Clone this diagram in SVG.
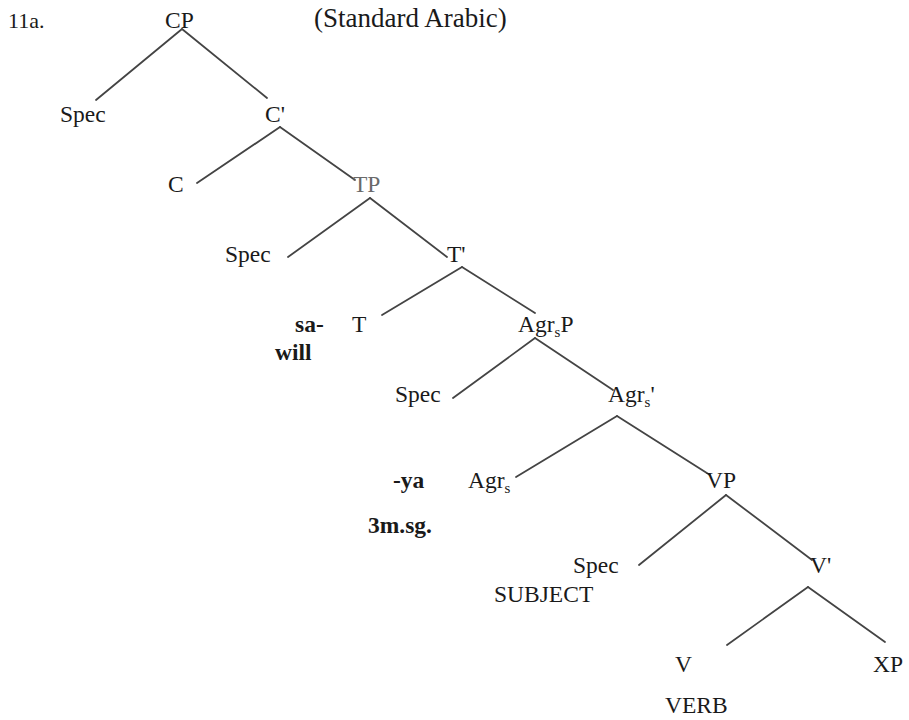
<svg xmlns="http://www.w3.org/2000/svg" width="909" height="720" viewBox="0 0 909 720">
<style>
text{font-family:"Liberation Serif","Times New Roman",serif;font-size:23.5px;fill:#1a1a1a}
.b{font-weight:bold}
.title{font-size:27px}
.num{font-size:22px}
.gray{fill:#6a6a6a}
.sub{font-size:15px}
#connectors line{stroke:#444;stroke-width:1.8;stroke-linecap:round}
</style>
<rect width="909" height="720" fill="#fff"/>
<text class="num" x="8" y="28">11a.</text>
<text class="title" x="314" y="27">(Standard Arabic)</text>
<g id="connectors">
<line x1="182" y1="29" x2="96" y2="100"/>
<line x1="182" y1="29" x2="267" y2="98"/>
<line x1="280" y1="127" x2="197" y2="183"/>
<line x1="280" y1="127" x2="355" y2="180"/>
<line x1="370" y1="198" x2="288" y2="257"/>
<line x1="370" y1="198" x2="447" y2="257"/>
<line x1="462" y1="267" x2="382" y2="315"/>
<line x1="462" y1="267" x2="535" y2="313"/>
<line x1="535" y1="338" x2="453" y2="398"/>
<line x1="535" y1="338" x2="613" y2="390"/>
<line x1="617" y1="416" x2="516" y2="477"/>
<line x1="617" y1="416" x2="710" y2="475"/>
<line x1="726" y1="495" x2="639" y2="565"/>
<line x1="726" y1="495" x2="812" y2="560"/>
<line x1="808" y1="587" x2="727" y2="645"/>
<line x1="808" y1="587" x2="885" y2="642"/>
</g>
<g id="CP"><text x="165" y="28">CP</text></g>
<g id="Spec1"><text x="60" y="122">Spec</text></g>
<g id="Cbar"><text x="265" y="122">C'</text></g>
<g id="C"><text x="168" y="192">C</text></g>
<g id="TP"><text class="gray" x="353" y="192">TP</text></g>
<g id="Spec2"><text x="225" y="262">Spec</text></g>
<g id="Tbar"><text x="447" y="262">T'</text></g>
<g id="T"><text class="b" x="295" y="332">sa-</text><text class="b" x="275" y="360">will</text><text x="352" y="332">T</text></g>
<g id="AgrsP"><text x="518" y="332">Agr<tspan class="sub" dy="5">s</tspan><tspan dy="-5">P</tspan></text></g>
<g id="Spec3"><text x="395" y="402">Spec</text></g>
<g id="Agrsbar"><text x="608" y="402">Agr<tspan class="sub" dy="5">s</tspan><tspan dy="-5">'</tspan></text></g>
<g id="Agrs"><text class="b" x="393" y="488">-ya</text><text class="b" x="368" y="533">3m.sg.</text><text x="468" y="488">Agr<tspan class="sub" dy="5">s</tspan></text></g>
<g id="VP"><text x="706" y="488">VP</text></g>
<g id="Spec4"><text x="573" y="573">Spec</text><text x="494" y="602">SUBJECT</text></g>
<g id="Vbar"><text x="810" y="573">V'</text></g>
<g id="V"><text x="675" y="672">V</text><text x="665" y="713">VERB</text></g>
<g id="XP"><text x="873" y="672">XP</text></g>
</svg>
